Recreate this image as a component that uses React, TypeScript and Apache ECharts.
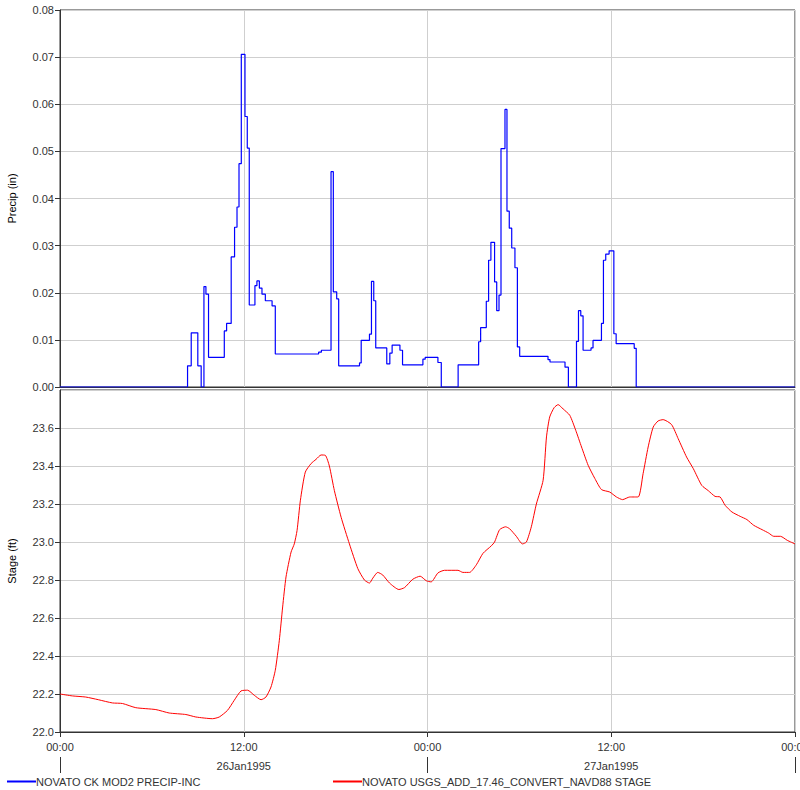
import React, { useEffect, useRef } from "react";
import * as echarts from "echarts";

// Hours since 26Jan1995 00:00 at which the incremental precip value changes, and the value after that time (in)
const precipHours = [0, 8.33, 8.57, 9.0, 9.22, 9.4, 9.53, 9.7, 10.73, 10.88, 11.18, 11.4, 11.56, 11.69, 11.84, 12.08, 12.23, 12.36, 12.73, 12.86, 13.02, 13.19, 13.41, 13.85, 14.06, 16.89, 17.07, 17.7, 17.85, 18.07, 18.2, 19.56, 19.67, 20.21, 20.34, 20.49, 20.62, 21.34, 21.54, 21.69, 22.2, 22.37, 23.7, 23.85, 24.68, 24.9, 26.0, 27.34, 27.47, 27.84, 27.99, 28.14, 28.38, 28.52, 28.67, 28.8, 29.06, 29.19, 29.34, 29.5, 29.71, 29.87, 30.02, 31.87, 32.0, 32.98, 33.2, 33.73, 33.86, 34.01, 34.16, 34.68, 34.81, 35.36, 35.49, 35.64, 35.86, 36.17, 36.32, 37.5, 37.63, 48];
const precipValues = [0, 0.0045, 0.0115, 0.0045, 0, 0.0213, 0.0197, 0.0063, 0.0119, 0.0135, 0.0276, 0.0339, 0.0382, 0.0474, 0.0706, 0.0574, 0.0507, 0.0174, 0.0215, 0.0225, 0.021, 0.0197, 0.0183, 0.0172, 0.007, 0.0074, 0.0078, 0.0457, 0.0202, 0.0187, 0.0045, 0.0051, 0.0099, 0.0112, 0.0224, 0.0183, 0.0083, 0.0049, 0.0072, 0.0089, 0.0078, 0.0047, 0.0059, 0.0063, 0.0052, 0, 0.0047, 0.0096, 0.0126, 0.0182, 0.0269, 0.0307, 0.0223, 0.0162, 0.0195, 0.0506, 0.0589, 0.0373, 0.0337, 0.0295, 0.0253, 0.0085, 0.0065, 0.0058, 0.0053, 0.0042, 0, 0.0097, 0.0162, 0.0151, 0.0078, 0.0083, 0.0099, 0.0135, 0.0269, 0.0282, 0.0289, 0.0113, 0.0092, 0.0082, 0, 0];

// Stage readings (ft) at hours since 26Jan1995 00:00
const stageHours = [0, 0.8, 1.68, 2.5, 3.42, 4.08, 4.95, 6.26, 7.13, 8.22, 8.87, 9.96, 10.4, 10.94, 11.38, 11.82, 12.25, 12.69, 13.13, 13.45, 13.78, 14.06, 14.32, 14.54, 14.76, 15.09, 15.3, 15.48, 15.7, 16.02, 16.4, 16.72, 17.05, 17.33, 17.59, 17.92, 18.36, 18.9, 19.45, 19.88, 20.21, 20.43, 20.75, 21.08, 21.52, 22.13, 22.5, 23.04, 23.52, 23.92, 24.24, 24.68, 25.11, 25.99, 26.31, 26.75, 27.19, 27.62, 28.17, 28.38, 28.71, 29.1, 29.36, 29.8, 30.2, 30.46, 30.78, 31.11, 31.55, 31.77, 31.98, 32.27, 32.53, 32.86, 33.29, 33.68, 34.06, 34.49, 34.93, 35.36, 35.9, 36.34, 36.74, 37.21, 37.76, 38.08, 38.41, 38.74, 39.06, 39.39, 39.94, 40.37, 40.92, 41.36, 41.91, 42.34, 42.78, 43.11, 43.44, 43.88, 44.42, 44.86, 45.3, 45.85, 46.28, 46.61, 47.05, 47.49, 48.0];
const stageValues = [22.2, 22.19, 22.184, 22.17, 22.153, 22.15, 22.128, 22.118, 22.1, 22.092, 22.079, 22.07, 22.079, 22.114, 22.167, 22.216, 22.22, 22.193, 22.17, 22.184, 22.237, 22.325, 22.48, 22.658, 22.816, 22.947, 22.99, 23.06, 23.22, 23.368, 23.413, 23.435, 23.458, 23.456, 23.4, 23.27, 23.13, 22.99, 22.86, 22.8, 22.784, 22.81, 22.84, 22.826, 22.784, 22.75, 22.76, 22.804, 22.82, 22.796, 22.79, 22.837, 22.851, 22.851, 22.84, 22.84, 22.88, 22.94, 22.98, 23.0, 23.065, 23.08, 23.07, 23.03, 22.99, 23.0, 23.08, 23.2, 23.325, 23.553, 23.658, 23.707, 23.723, 23.7, 23.667, 23.588, 23.5, 23.404, 23.334, 23.276, 23.263, 23.237, 23.223, 23.237, 23.237, 23.36, 23.5, 23.605, 23.637, 23.644, 23.618, 23.544, 23.447, 23.386, 23.298, 23.27, 23.24, 23.237, 23.193, 23.158, 23.135, 23.118, 23.088, 23.065, 23.047, 23.03, 23.03, 23.009, 22.99];

const dayLabels: Record<number, string> = { 12: "26Jan1995", 36: "27Jan1995" };
const precipName = "NOVATO CK MOD2 PRECIP-INC";
const stageName = "NOVATO USGS_ADD_17.46_CONVERT_NAVD88 STAGE";

const FONT = "Liberation Sans, Arial, sans-serif";
const TXT = "#333";
const BLUE = "#0000ff";
const RED = "#ff0000";

export default function App() {
  const ref = useRef<HTMLDivElement>(null);
  useEffect(() => {
    if (!ref.current) return;
    const chart = echarts.init(ref.current, null, { renderer: "svg" });
    const precipData = precipHours.map((h, i) => [h, precipValues[i]]);
    const stageData = stageHours.map((h, i) => [h, stageValues[i]]);
    const gridLine = { show: true, lineStyle: { color: "#cfcfcf", width: 1 } };
    const labelStyle = { color: TXT, fontSize: 11, fontFamily: FONT };
    const legendBase = (name: string, left: number, color: string) => ({
      left, top: 776, padding: 0, icon: "rect", itemWidth: 29, itemHeight: 2,
      data: [{ name, icon: "rect", itemStyle: { color, borderWidth: 0 } }],
      itemStyle: { color, borderWidth: 0 },
      lineStyle: { color, width: 0 },
      textStyle: { color: TXT, fontSize: 11, fontFamily: FONT, padding: [0, 0, 0, -5] },
      selectedMode: false,
    });
    chart.setOption({
      animation: false,
      textStyle: { fontFamily: FONT },
      grid: [
        { left: 60, top: 10, width: 735, height: 377, show: true, borderColor: "#333", borderWidth: 1, backgroundColor: "transparent", outerBoundsMode: "none", containLabel: false },
        { left: 60, top: 390, width: 735, height: 342, show: true, borderColor: "#333", borderWidth: 1, backgroundColor: "transparent", outerBoundsMode: "none", containLabel: false },
      ],
      xAxis: [
        {
          type: "value", gridIndex: 0, min: 0, max: 48, interval: 12,
          axisLine: { show: true, lineStyle: { color: "#333" } },
          axisTick: { show: false }, axisLabel: { show: false }, splitLine: gridLine,
        },
        {
          type: "value", gridIndex: 1, min: 0, max: 48, interval: 12,
          axisLine: { show: true, lineStyle: { color: "#333" } },
          axisTick: { show: true, length: 5, lineStyle: { color: "#333" } },
          axisLabel: {
            ...labelStyle, margin: 5,
            showMaxLabel: true, showMinLabel: true,
            formatter: (v: number) => {
              const t = v % 24 === 0 ? "00:00" : "12:00";
              return dayLabels[v] ? `{t|${t}}\n{d|${dayLabels[v]}}` : `{t|${t}}`;
            },
            rich: {
              t: { lineHeight: 19, fontSize: 11, color: TXT, fontFamily: FONT },
              d: { lineHeight: 19, fontSize: 11, color: TXT, fontFamily: FONT },
            },
          },
          splitLine: gridLine,
        },
        {
          type: "value", gridIndex: 1, min: 0, max: 48, interval: 24, position: "bottom", offset: 25,
          axisLine: { show: false },
          axisTick: { show: true, length: 16, lineStyle: { color: "#333" } },
          axisLabel: { show: false }, splitLine: { show: false },
        },
      ],
      yAxis: [
        {
          type: "value", gridIndex: 0, min: 0, max: 0.08, interval: 0.01,
          name: "Precip (in)", nameLocation: "middle", nameGap: 43,
          nameTextStyle: { color: "#000", fontSize: 11, fontFamily: FONT },
          axisLine: { show: true, lineStyle: { color: "#333" } },
          axisTick: { show: true, length: 5, lineStyle: { color: "#333" } },
          axisLabel: { ...labelStyle, margin: 6, formatter: (v: number) => v.toFixed(2) },
          splitLine: gridLine,
        },
        {
          type: "value", gridIndex: 1, min: 22.0, max: 23.8, interval: 0.2,
          name: "Stage (ft)", nameLocation: "middle", nameGap: 43,
          nameTextStyle: { color: "#000", fontSize: 11, fontFamily: FONT },
          axisLine: { show: true, lineStyle: { color: "#333" } },
          axisTick: { show: true, length: 5, lineStyle: { color: "#333" } },
          axisLabel: { ...labelStyle, margin: 6, showMaxLabel: false, formatter: (v: number) => v.toFixed(1) },
          splitLine: gridLine,
        },
      ],
      legend: [legendBase(precipName, 7, BLUE), legendBase(stageName, 333, RED)],
      series: [
        {
          name: precipName, type: "line", xAxisIndex: 0, yAxisIndex: 0, step: "end",
          data: precipData, showSymbol: false, symbol: "none", color: BLUE,
          lineStyle: { color: BLUE, width: 1.2 }, itemStyle: { color: BLUE },
        },
        {
          name: stageName, type: "line", xAxisIndex: 1, yAxisIndex: 1,
          data: stageData, showSymbol: false, symbol: "none", smooth: 0.2, color: RED,
          lineStyle: { color: RED, width: 1 }, itemStyle: { color: RED },
        },
      ],
    });
    return () => chart.dispose();
  }, []);
  return (
    <div
      ref={ref}
      style={{ position: "absolute", left: 0, top: 0, width: 800, height: 790, background: "#fff" }}
    />
  );
}
